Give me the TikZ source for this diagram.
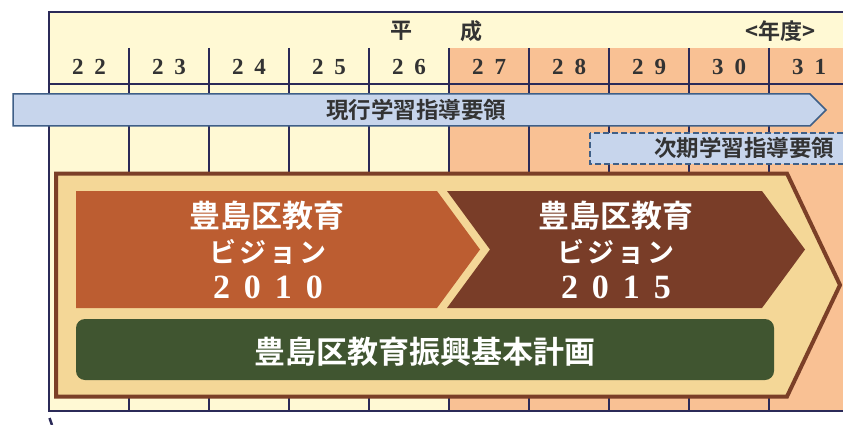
\documentclass[tikz,border=0pt]{standalone}
\usepackage{fontspec}
\newfontfamily\jp{Noto Sans CJK JP}
\newfontfamily\jpb{Noto Sans CJK JP Bold}
\newfontfamily\dig{Liberation Serif}
\definecolor{cream}{HTML}{FFF9D4}
\definecolor{peach}{HTML}{F9C194}
\definecolor{gridc}{HTML}{2B2A58}
\definecolor{bluef}{HTML}{C7D5EC}
\definecolor{bluel}{HTML}{3F5F87}
\definecolor{beige}{HTML}{F4D797}
\definecolor{brownb}{HTML}{7B3F27}
\definecolor{rust}{HTML}{BC5D31}
\definecolor{darkbrown}{HTML}{793D28}
\definecolor{greenf}{HTML}{405530}
\definecolor{txt}{HTML}{333333}
\newcommand{\fs}[1]{\fontsize{#1}{#1}\selectfont}
\newcommand{\digsp}[2]{#1\hspace{11pt}#2}
\begin{document}
\begin{tikzpicture}[x=1pt,y=-1pt,
  gridline/.style={draw=gridc,line width=1.2pt},
  yearlbl/.style={inner sep=0pt,text=txt,font=\dig\bfseries\fs{23}},
  headlbl/.style={inner sep=0pt,text=txt,font=\jpb\fs{22}},
  bluelbl/.style={inner sep=0pt,text=txt,font=\jpb\fs{22.5}},
  whitelbl/.style={inner sep=0pt,text=white,align=center},
]
\useasboundingbox (0,0) rectangle (843,425);
\clip (0,0) rectangle (843,425);
% table background
\fill[cream] (49,12) rectangle (850,411);
\fill[peach] (449,48) rectangle (850,411);
\foreach \x in {129,209,289,369,449,529,609,689,769}
  \draw[gridline] (\x,48) -- (\x,411);
\draw[gridline] (49,84) -- (850,84);
\draw[gridline] (850,12) -- (49,12) -- (49,411) -- (850,411);
% header
\node[headlbl] (hei) at (401,31) {平};
\node[headlbl] (sei) at (471,31) {成};
\node[headlbl] (nendo) at (780,31) {<年度>};
\foreach \n/\x in {22/89,23/169,24/249,25/329,26/409,27/489,28/569,29/649,30/729,31/809}{
  \node[yearlbl] (y\n) at (\x,67) {\expandafter\digsp\n};
}
% current guidelines arrow
\draw[fill=bluef,draw=bluel,line width=1.5pt] (13,94) -- (810,94) -- (826,110) -- (810,126) -- (13,126) -- cycle;
\node[bluelbl] (cur) at (416,110) {現行学習指導要領};
% next guidelines dashed box
\draw[fill=bluef,draw=bluel,line width=1.8pt,dash pattern=on 6pt off 3pt] (590,133) rectangle (852,164);
\node[bluelbl] (next) at (744,148) {次期学習指導要領};
% big pentagon
\draw[fill=beige,draw=brownb,line width=4pt,line join=miter] (56,173.5) -- (787,173.5) -- (840,285) -- (787,396.5) -- (56,396.5) -- cycle;
% vision 2010
\fill[rust] (76,191) -- (437,191) -- (480,249.5) -- (437,308) -- (76,308) -- cycle;
% vision 2015
\fill[darkbrown] (447,191) -- (762,191) -- (805,249.5) -- (762,308) -- (447,308) -- (490,249.5) -- cycle;
% plan
\fill[greenf,rounded corners=9pt] (76,319) rectangle (774,380);
% texts
\node[whitelbl,font=\jpb\fs{31}] (v1a) at (267,216) {豊島区教育};
\node[whitelbl,font=\jpb\fs{27}] (v1b) at (268,252) {ビ\hspace{3pt}ジ\hspace{3pt}ョ\hspace{3pt}ン};
\node[whitelbl,font=\dig\bfseries\fs{34}] (v1c) at (268,287) {2\hspace{14pt}0\hspace{14pt}1\hspace{14pt}0};
\node[whitelbl,font=\jpb\fs{31}] (v2a) at (616,216) {豊島区教育};
\node[whitelbl,font=\jpb\fs{27}] (v2b) at (616,252) {ビ\hspace{3pt}ジ\hspace{3pt}ョ\hspace{3pt}ン};
\node[whitelbl,font=\dig\bfseries\fs{34}] (v2c) at (616,287) {2\hspace{14pt}0\hspace{14pt}1\hspace{14pt}5};
\node[whitelbl,font=\jpb\fs{31}] (plan) at (425,352) {豊島区教育振興基本計画};
% stray mark at bottom left
\coordinate (m1) at (49.5,418);
\coordinate (m2) at (52,425);
\draw[gridc,line width=2.5pt] (m1) -- (m2);
\end{tikzpicture}
\end{document}
